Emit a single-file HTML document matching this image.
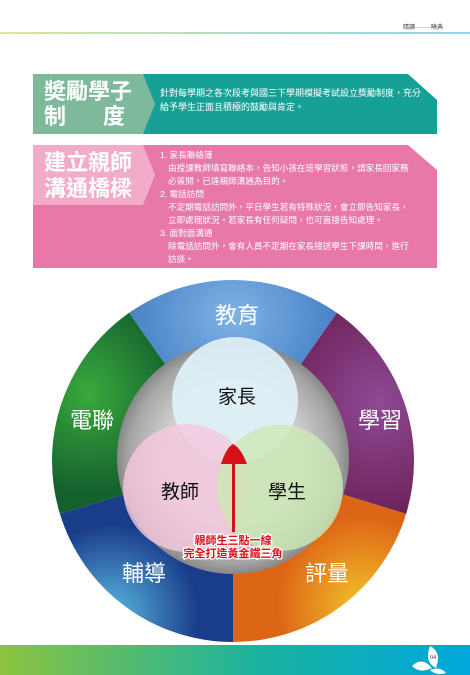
<!DOCTYPE html>
<html><head><meta charset="utf-8"><style>
body{margin:0;width:470px;height:675px;overflow:hidden;background:#fff;font-family:"Liberation Sans","Noto Sans CJK TC",sans-serif}
svg{display:block}
</style></head><body>
<svg width="470" height="675" viewBox="0 0 470 675">
<defs>
<linearGradient id="hl" x1="0" x2="1"><stop offset="0" stop-color="#d6e6a0"/><stop offset="1" stop-color="#8fd3e8"/></linearGradient>
<linearGradient id="bb" x1="0" x2="1"><stop offset="0" stop-color="#8cc43f"/><stop offset="0.55" stop-color="#1ab3a0"/><stop offset="1" stop-color="#00a6dc"/></linearGradient>
<radialGradient id="gBlue" cx="0.5" cy="0.2" r="0.6"><stop offset="0" stop-color="#7fb3e6"/><stop offset="1" stop-color="#3d78c0"/></radialGradient>
<radialGradient id="gPur" cx="0.8" cy="0.45" r="0.6"><stop offset="0" stop-color="#8f4a95"/><stop offset="1" stop-color="#6a1f55"/></radialGradient>
<radialGradient id="gOra" cx="0.75" cy="0.8" r="0.5"><stop offset="0" stop-color="#f2c22a"/><stop offset="1" stop-color="#dd6516"/></radialGradient>
<radialGradient id="gNav" cx="0.3" cy="0.85" r="0.5"><stop offset="0" stop-color="#5ab7e0"/><stop offset="1" stop-color="#1a3d8a"/></radialGradient>
<radialGradient id="gGrn" cx="0.2" cy="0.4" r="0.5"><stop offset="0" stop-color="#3aaa3c"/><stop offset="1" stop-color="#14612e"/></radialGradient>
<radialGradient id="gGray" cx="0.5" cy="0.5" r="0.5"><stop offset="0.6" stop-color="#cfcfcf"/><stop offset="0.9" stop-color="#a5a5a5"/><stop offset="1" stop-color="#888"/></radialGradient>
</defs>
<rect x="0" y="32" width="470" height="2" fill="url(#hl)"/>
<text x="403" y="29" font-size="6" fill="#444">晴讀<tspan fill="#8c3" font-size="4">━━━━</tspan>曉典</text>

<g>
<path d="M33 74 H408 L437 100 V134 H33 Z" fill="#17a096"/>
<path d="M33 74 H143 L155 104 L143 134 H33 Z" fill="#7db99a"/>
<text x="44" y="99" font-size="22" font-weight="bold" fill="#fff">奬勵學子</text>
<text x="44" y="124" font-size="22" font-weight="bold" fill="#fff">制<tspan x="103">度</tspan></text>
<text x="160" y="96" font-size="9" fill="#fff">針對每學期之各次段考與國三下學期模擬考試設立獎勵制度，充分</text>
<text x="160" y="110" font-size="9" fill="#fff">給予學生正面且積極的鼓勵與肯定。</text>
</g>
<g>
<path d="M33 145 H408 L437 170 V268 H33 Z" fill="#e878a8"/>
<path d="M33 145 H143 L155 175 L143 205 H33 Z" fill="#f2acc9"/>
<text x="44" y="170" font-size="22" font-weight="bold" fill="#fff">建立親師</text>
<text x="44" y="196" font-size="22" font-weight="bold" fill="#fff">溝通橋樑</text>
<g font-size="8.6" fill="#fff">
<text x="160" y="158">1. 家長聯絡簿</text>
<text x="168" y="171">由授課教師填寫聯絡本，告知小孩在班學習狀態，請家長回家務</text>
<text x="168" y="184">必簽閱，已達親師溝通為目的。</text>
<text x="160" y="197">2. 電話訪問</text>
<text x="168" y="210">不定期電話訪問外，平日學生若有特殊狀況，會立即告知家長，</text>
<text x="168" y="223">立即處理狀況。若家長有任何疑問，也可直接告知處理。</text>
<text x="160" y="236">3. 面對面溝通</text>
<text x="168" y="249">除電話訪問外，會有人員不定期在家長接送學生下課時間，進行</text>
<text x="168" y="262">訪談。</text>
</g></g>

<g>
<path d="M233 461 L129.1 312.8 A181 181 0 0 1 336.9 312.8 Z" fill="url(#gBlue)"/>
<path d="M233 461 L336.9 312.8 A181 181 0 0 1 406.1 513.9 Z" fill="url(#gPur)"/>
<path d="M233 461 L406.1 513.9 A181 181 0 0 1 233 642 Z" fill="url(#gOra)"/>
<path d="M233 461 L233 642 A181 181 0 0 1 59.9 513.9 Z" fill="url(#gNav)"/>
<path d="M233 461 L59.9 513.9 A181 181 0 0 1 129.1 312.8 Z" fill="url(#gGrn)"/>
<g font-size="22" fill="#fff" text-anchor="middle">
<text x="237" y="323">教育</text>
<text x="380" y="428">學習</text>
<text x="327" y="581">評量</text>
<text x="144" y="581">輔導</text>
<text x="92" y="428">電聯</text>
</g></g>
<circle cx="233" cy="458" r="116" fill="url(#gGray)"/>
<g>
<circle cx="235" cy="400" r="63" fill="#dff1f8" opacity="0.92"/>
<circle cx="187" cy="488" r="64" fill="#f5c8de" opacity="0.8"/>
<circle cx="280" cy="488" r="63" fill="#cde8b4" opacity="0.8"/>
<g font-size="19" fill="#111" text-anchor="middle">
<text x="237" y="403">家長</text><text x="180" y="498">教師</text><text x="287" y="498">學生</text>
</g></g>
<g>
<rect x="232" y="455" width="3" height="77" fill="#d8101a"/>
<path d="M221 464 Q226 448 233 444 Q241 448 247 464 Z" fill="#d8101a"/>
</g>
<g font-size="11" font-weight="bold" fill="#e0101a" stroke="#fff" stroke-width="2.5" paint-order="stroke" text-anchor="middle">
<text x="233" y="544">親師生三點一線</text>
<text x="233" y="557">完全打造黃金鐵三角</text>
</g>
<rect x="0" y="645" width="470" height="30" fill="url(#bb)"/>
<g fill="#fff">
<path d="M430 646 Q442 652 436 668 Q424 662 430 646 Z"/>
<path d="M412 666 Q422 656 432 668 Q420 674 412 666 Z"/>
<path d="M430 670 Q440 666 446 673 Q436 676 430 670 Z"/>
</g>
<text x="430" y="659" font-size="6" fill="#333" font-family="Liberation Serif,serif">04</text>
</svg>
</body></html>
